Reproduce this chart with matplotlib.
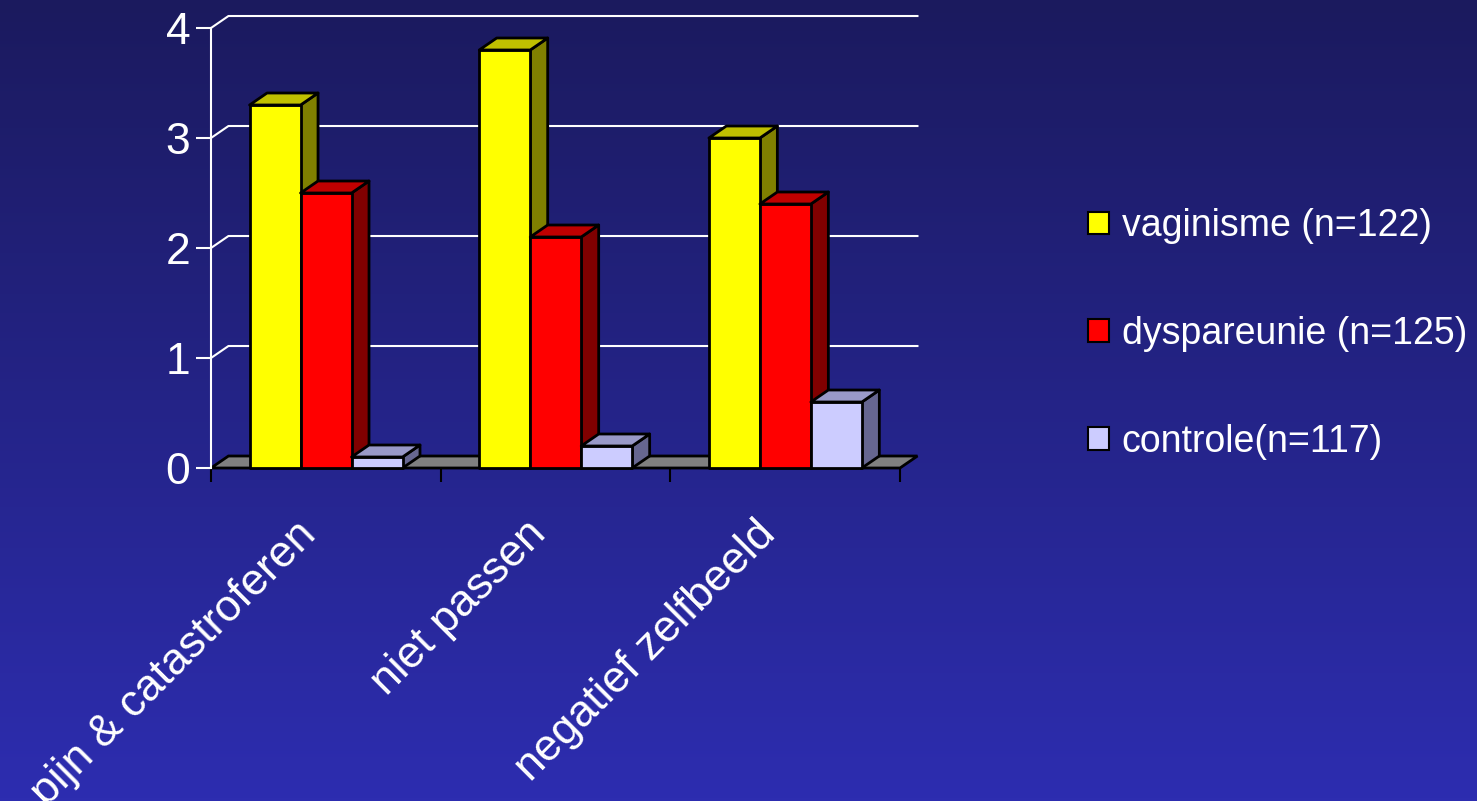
import matplotlib
matplotlib.use('Agg')
import numpy as np
import matplotlib.pyplot as plt
from matplotlib.patches import Polygon, Patch
from matplotlib.colors import LinearSegmentedColormap

plt.rcParams['font.family'] = ['Liberation Sans', 'DejaVu Sans']

categories = ['pijn & catastroferen', 'niet passen', 'negatief zelfbeeld']
series_names = ['vaginisme (n=122)', 'dyspareunie (n=125)', 'controle(n=117)']
vaginisme = [3.3, 3.8, 3.0]
dyspareunie = [2.5, 2.1, 2.4]
controle = [0.1, 0.2, 0.6]
y_ticks = [0, 1, 2, 3, 4]

# front / top / side colours of each box
face_cols = ['#FFFF00', '#FF0000', '#CCCCFF']
top_cols = ['#C0C000', '#C00000', '#9999C8']
side_cols = ['#808000', '#800000', '#666690']

# depth of the fake 3d walls, in data units
DX, DY = 0.076, 0.109
GAP, W = 0.168, 0.222

fig = plt.figure()
fig.set_size_inches(14.77, 8.01)

# background gradient
bg = fig.add_axes([0, 0, 1, 1])
grad = LinearSegmentedColormap.from_list('bg', ['#1b1a5e', '#2d2db0'])
bg.imshow(np.linspace(0, 1, 256).reshape(-1, 1), aspect='auto', cmap=grad,
          extent=[0, 1, 0, 1])
bg.axis('off')

ax = fig.add_axes([211 / 1477, 1 - 468 / 801, 689 / 1477, 440 / 801])
ax.set_facecolor('none')
ax.set_xlim(0, 3)
ax.set_ylim(0, 4)
for s in ['top', 'right', 'bottom']:
    ax.spines[s].set_visible(False)
ax.spines['left'].set_color('white')
ax.spines['left'].set_linewidth(1.5)

# back wall gridlines with the little diagonal on the side wall
for v in y_ticks[1:]:
    ax.plot([0, DX, 3 + DX], [v, v + DY, v + DY], color='white', lw=1.5,
            clip_on=False, zorder=1)

# floor
ax.add_patch(Polygon([(0, 0), (3, 0), (3 + DX, DY), (DX, DY)], closed=True,
                     facecolor='#808080', edgecolor='black', lw=2,
                     clip_on=False, zorder=2))


def box(x0, h, k):
    x1 = x0 + W
    side = [(x1, 0), (x1 + DX, DY), (x1 + DX, h + DY), (x1, h)]
    front = [(x0, 0), (x1, 0), (x1, h), (x0, h)]
    top = [(x0, h), (x1, h), (x1 + DX, h + DY), (x0 + DX, h + DY)]
    for pts, c in [(side, side_cols[k]), (front, face_cols[k]), (top, top_cols[k])]:
        ax.add_patch(Polygon(pts, closed=True, facecolor=c, edgecolor='black',
                             lw=2, joinstyle='round', clip_on=False, zorder=3))


all_series = [vaginisme, dyspareunie, controle]
for i in range(len(categories)):
    for k, vals in enumerate(all_series):
        box(i + GAP + k * W, vals[i], k)

ax.set_yticks(y_ticks)
ax.set_yticklabels([str(t) for t in y_ticks])
ax.tick_params(axis='y', colors='white', labelsize=32, length=11, width=1.5, pad=4)
ax.set_xticks([0, 1, 2, 3])
ax.set_xticklabels([])
ax.tick_params(axis='x', colors='black', length=10, width=1.5)

# category names run diagonally, ending just under each group
for i, name in enumerate(categories):
    ax.annotate(name, xy=(i + 0.5, 0), xytext=(-16, -60), textcoords='offset pixels',
                rotation=45, rotation_mode='anchor', ha='right', va='center',
                color='white', fontsize=32, annotation_clip=False)

handles = [Patch(facecolor=face_cols[k], edgecolor='black', lw=1.5)
           for k in range(3)]
leg = fig.legend(handles, series_names, loc='center left',
                 bbox_to_anchor=(1088 / 1477, 1 - 334 / 801), frameon=False,
                 fontsize=27, labelcolor='white', handlelength=0.55,
                 handleheight=0.55, handletextpad=0.35, labelspacing=1.91,
                 borderaxespad=0, borderpad=0)

fig.savefig('out.png', dpi=100)
plt.close(fig)
